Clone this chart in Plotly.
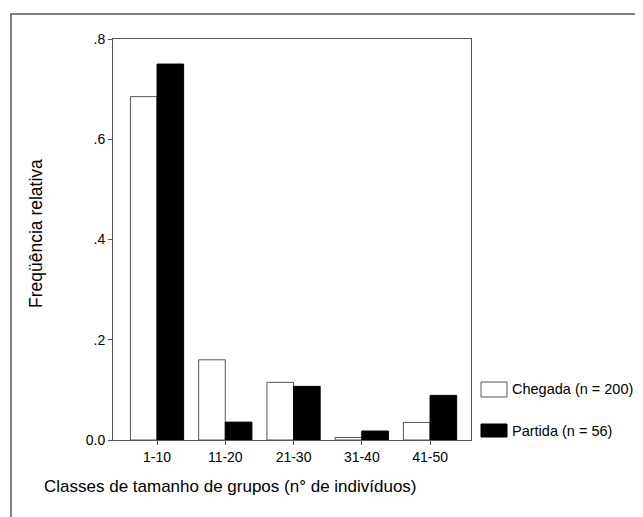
import plotly.graph_objects as go

categories = ["1-10", "11-20", "21-30", "31-40", "41-50"]
chegada = [0.685, 0.16, 0.115, 0.005, 0.035]
partida = [0.75, 0.0357, 0.107, 0.0179, 0.089]
series_names = ["Chegada (n = 200)", "Partida (n = 56)"]
y_tickvals = [0.0, 0.2, 0.4, 0.6, 0.8]
y_ticktext = ["0.0", ".2", ".4", ".6", ".8"]

FONT = "Liberation Sans, Arial, sans-serif"
OFF = 8  # page body margin offset
W, H = 643 - OFF, 517 - OFF
L, R, T, B = 113, 471, 39, 440  # target pixel positions in the window

def px(x):
    return (x - L) / (R - L)

def py(y):
    return (B - y) / (B - T)

xs = list(range(len(categories)))

fig = go.Figure()
fig.add_trace(go.Bar(x=xs, y=chegada, name=series_names[0],
                     marker=dict(color="white", line=dict(color="#555555", width=1)),
                     showlegend=False))
fig.add_trace(go.Bar(x=xs, y=partida, name=series_names[1],
                     marker=dict(color="black", line=dict(color="black", width=1)),
                     showlegend=False))

shapes = [
    dict(type="rect", xref="paper", yref="paper", x0=px(11), x1=px(700), y0=py(560), y1=py(14),
         line=dict(color="#555555", width=1.5), fillcolor="rgba(0,0,0,0)", layer="below"),
    dict(type="rect", xref="paper", yref="paper", x0=px(481), x1=px(507), y0=py(397), y1=py(382),
         line=dict(color="#555555", width=1), fillcolor="white"),
    dict(type="rect", xref="paper", yref="paper", x0=px(481), x1=px(507), y0=py(437), y1=py(424),
         line=dict(color="black", width=1), fillcolor="black"),
]

annotations = [
    dict(text=series_names[0], xref="paper", yref="paper", x=px(510), y=py(389),
         xanchor="left", yanchor="middle", showarrow=False, font=dict(family=FONT, size=14.5, color="black")),
    dict(text=series_names[1], xref="paper", yref="paper", x=px(510), y=py(431),
         xanchor="left", yanchor="middle", showarrow=False, font=dict(family=FONT, size=14.5, color="black")),
    dict(text="Classes de tamanho de grupos (n° de indivíduos)", xref="paper", yref="paper",
         x=px(42), y=py(487), xanchor="left", yanchor="middle", showarrow=False,
         font=dict(family=FONT, size=17, color="black")),
    dict(text="Freqüência relativa", xref="paper", yref="paper", x=px(36), y=py(234),
         xanchor="center", yanchor="middle", textangle=-90, showarrow=False,
         font=dict(family=FONT, size=17.5, color="black")),
]

fig.update_layout(
    width=W, height=H,
    margin=dict(l=L - OFF, r=643 - R, t=T - OFF, b=517 - B, pad=0),
    paper_bgcolor="white", plot_bgcolor="white",
    barmode="group", bargap=0.22, bargroupgap=0,
    font=dict(family=FONT, size=14, color="black"),
    shapes=shapes, annotations=annotations,
    xaxis=dict(range=[-0.645, 4.6], tickvals=xs, ticktext=categories,
               showline=True, linecolor="#555555", linewidth=1, mirror=True,
               ticks="outside", ticklen=4, tickcolor="#555555", showgrid=False, zeroline=False,
               tickfont=dict(family=FONT, size=14, color="black")),
    yaxis=dict(range=[0, 0.8], tickvals=y_tickvals, ticktext=y_ticktext,
               showline=True, linecolor="#555555", linewidth=1, mirror=True,
               ticks="outside", ticklen=4, tickcolor="#555555", showgrid=False, zeroline=False,
               tickfont=dict(family=FONT, size=14, color="black")),
)

fig.write_html("out.html")
